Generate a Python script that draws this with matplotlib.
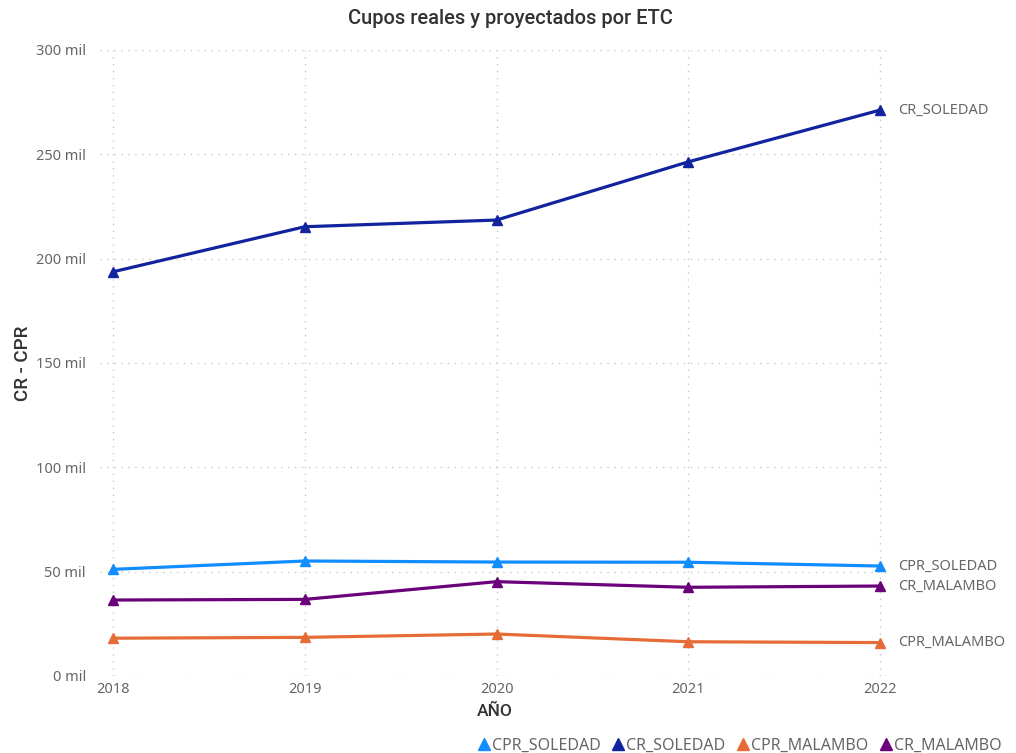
import matplotlib.pyplot as plt
from matplotlib.lines import Line2D

plt.rcParams['font.family'] = ['Noto Sans', 'DejaVu Sans']

anios = [2018, 2019, 2020, 2021, 2022]
cpr_soledad = [51.1, 55.1, 54.6, 54.5, 52.7]
cr_soledad = [193.7, 215.3, 218.5, 246.4, 271.2]
cpr_malambo = [18.1, 18.5, 20.1, 16.4, 16.0]
cr_malambo = [36.4, 36.7, 45.2, 42.5, 43.1]

series = ["CPR_SOLEDAD", "CR_SOLEDAD", "CPR_MALAMBO", "CR_MALAMBO"]
valores = [cpr_soledad, cr_soledad, cpr_malambo, cr_malambo]
colores = ["#118DFF", "#12239E", "#E66C37", "#6B007B"]
y_ticks = [0, 50, 100, 150, 200, 250, 300]

fig = plt.figure(figsize=(10.16, 7.53), dpi=100)
ax = fig.add_axes([0.0984, 0.1023, 0.7776, 0.8313])

for nombre, v, c in zip(series, valores, colores):
    ax.plot(anios, v, color=c, lw=2.3, marker="^", markersize=7, zorder=3)
    ax.annotate(nombre, (anios[-1], v[-1]), xytext=(13, 0), textcoords="offset points",
                va="center", ha="left", fontsize=10.5, color="#666666")

ax.set_xlim(2017.932, 2022.052)
ax.set_ylim(0, 300)
ax.set_xticks(anios)
ax.set_xticklabels([str(a) for a in anios])
ax.set_yticks(y_ticks)
ax.set_yticklabels([f"{t} mil" for t in y_ticks])
ax.tick_params(length=0, labelsize=10.5, labelcolor="#666666")
ax.tick_params(axis="y", pad=10)
ax.tick_params(axis="x", pad=4)
ax.grid(True, linestyle=(0, (1, 4)), color="#C8C8C8", lw=1)
for s in ax.spines.values():
    s.set_visible(False)

tit = dict(family=['Roboto', 'DejaVu Sans'], weight='medium', color="#333333")
ax.set_xlabel("AÑO", fontsize=12.5, labelpad=5, **tit)
ax.set_ylabel("CR - CPR", fontsize=13.5, labelpad=3, **tit)
fig.text(0.502, 0.975, "Cupos reales y proyectados por ETC", ha="center", va="center",
         fontsize=14.5, **tit)

handles = [Line2D([], [], color=c, marker="^", linestyle="none", markersize=9) for c in colores]
fig.legend(handles, series, loc="lower right", bbox_to_anchor=(1.0, -0.02), ncol=4,
           frameon=False, fontsize=11.5, handletextpad=0.0, columnspacing=0.6,
           handlelength=1.0, labelcolor="#666666")

fig.savefig("out.png", dpi=100)
